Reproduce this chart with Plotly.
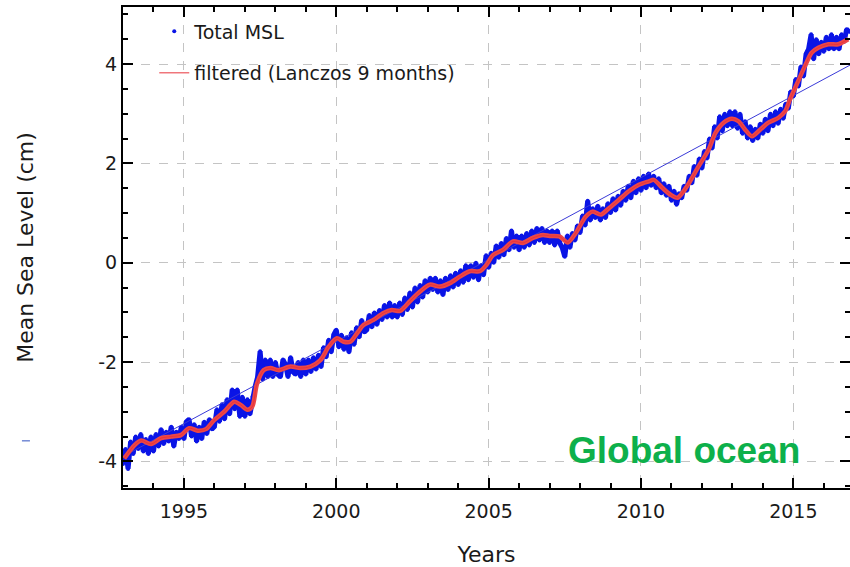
import numpy as np
import plotly.graph_objects as go

# Total mean sea level, monthly samples starting January 1993 (cm)
msl_start_year = 1993.0
msl_total = [
    # 1993
    -4.05, -3.75, -4.15, -3.60, -3.85, -3.50, -3.75, -3.45, -3.80, -3.55, -3.85, -3.50,
    # 1994
    -3.80, -3.45, -3.70, -3.35, -3.65, -3.40, -3.60, -3.30, -3.70, -3.40, -3.55, -3.30,
    # 1995
    -3.55, -3.20, -3.15, -3.50, -3.25, -3.60, -3.30, -3.55, -3.20, -3.45, -3.15, -3.35,
    # 1996
    -3.30, -2.95, -3.20, -2.85, -3.15, -2.75, -3.05, -2.55, -2.95, -2.55, -3.10, -2.70,
    # 1997
    -3.10, -2.75, -3.05, -2.70, -2.50, -2.30, -1.78, -2.35, -1.95, -2.30, -1.95, -2.30,
    # 1998
    -2.00, -2.25, -2.30, -1.95, -2.05, -2.30, -1.90, -2.20, -2.25, -2.00, -2.30, -1.95,
    # 1999
    -2.25, -1.95, -2.20, -1.90, -2.15, -1.85, -2.10, -1.70, -1.90, -1.55, -1.80, -1.45,
    # 2000
    -1.35, -1.70, -1.45, -1.75, -1.50, -1.80, -1.40, -1.65, -1.30, -1.50, -1.15, -1.40,
    # 2001
    -1.35, -1.05, -1.30, -1.00, -1.25, -0.95, -1.15, -0.85, -1.10, -0.80, -1.10, -0.85,
    # 2002
    -1.10, -0.80, -1.05, -0.70, -0.95, -0.60, -0.90, -0.50, -0.80, -0.45, -0.70, -0.35,
    # 2003
    -0.60, -0.30, -0.55, -0.30, -0.60, -0.35, -0.65, -0.30, -0.55, -0.25, -0.50, -0.20,
    # 2004
    -0.45, -0.15, -0.40, -0.05, -0.35, -0.05, -0.30, 0.00, -0.35, -0.05, -0.25, 0.15,
    # 2005
    -0.10, 0.20, 0.00, 0.35, 0.10, 0.40, 0.15, 0.50, 0.25, 0.65, 0.30, 0.55,
    # 2006
    0.25, 0.55, 0.30, 0.60, 0.35, 0.65, 0.40, 0.70, 0.45, 0.70, 0.40, 0.65,
    # 2007
    0.40, 0.65, 0.35, 0.65, 0.40, 0.30, 0.12, 0.55, 0.30, 0.60, 0.45, 0.75,
    # 2008
    0.60, 0.95, 0.75, 1.25, 0.85, 1.10, 0.90, 1.15, 0.85, 1.10, 0.90, 1.20,
    # 2009
    1.00, 1.30, 1.05, 1.35, 1.15, 1.45, 1.25, 1.55, 1.30, 1.65, 1.40, 1.70,
    # 2010
    1.45, 1.75, 1.50, 1.80, 1.55, 1.75, 1.50, 1.70, 1.40, 1.60, 1.35, 1.55,
    # 2011
    1.25, 1.45, 1.17, 1.40, 1.30, 1.55, 1.45, 1.75, 1.60, 1.95, 1.75, 2.10,
    # 2012
    1.90, 2.25, 2.10, 2.50, 2.30, 2.75, 2.50, 2.95, 2.65, 3.00, 2.75, 3.05,
    # 2013
    2.75, 3.05, 2.70, 3.00, 2.60, 2.85, 2.50, 2.75, 2.45, 2.70, 2.50, 2.80,
    # 2014
    2.60, 2.90, 2.65, 3.00, 2.75, 3.05, 2.80, 3.10, 2.90, 3.20, 3.10, 3.45,
    # 2015
    3.35, 3.70, 3.55, 3.95, 3.75, 4.20, 4.30, 4.60, 4.10, 4.50, 4.20, 4.45,
    # 2016
    4.25, 4.55, 4.30, 4.60, 4.30, 4.55, 4.30, 4.60, 4.45, 4.70, 4.65,
]

# Low-pass filtered series (Lanczos, 9 months)
filtered_years = [
    1993.04, 1993.38, 1993.60, 1993.92, 1994.25, 1994.58, 1994.90, 1995.17,
    1995.45, 1995.72, 1995.99, 1996.32, 1996.65, 1996.86, 1997.08, 1997.24,
    1997.40, 1997.62, 1997.84, 1998.10, 1998.50, 1998.82, 1999.15, 1999.48,
    1999.75, 2000.02, 2000.24, 2000.46, 2000.68, 2000.90, 2001.22, 2001.55,
    2001.82, 2002.09, 2002.42, 2002.75, 2003.07, 2003.40, 2003.73, 2004.05,
    2004.38, 2004.71, 2004.93, 2005.15, 2005.47, 2005.80, 2006.13, 2006.45,
    2006.78, 2007.00, 2007.32, 2007.60, 2007.86, 2008.19, 2008.41, 2008.68,
    2008.95, 2009.28, 2009.60, 2009.93, 2010.26, 2010.42, 2010.70, 2010.97,
    2011.20, 2011.50, 2011.89, 2012.22, 2012.44, 2012.71, 2012.98, 2013.20,
    2013.42, 2013.64, 2013.91, 2014.18, 2014.51, 2014.73, 2014.89, 2015.11,
    2015.38, 2015.60, 2015.82, 2016.15, 2016.47, 2016.80,
]
filtered_cm = [
    -3.94, -3.67, -3.58, -3.65, -3.53, -3.50, -3.47, -3.33,
    -3.38, -3.35, -3.17, -3.00, -2.80, -2.86, -2.96, -2.90,
    -2.43, -2.16, -2.12, -2.16, -2.09, -2.12, -2.09, -1.96,
    -1.69, -1.52, -1.59, -1.59, -1.42, -1.25, -1.15, -1.01,
    -0.95, -0.97, -0.77, -0.58, -0.44, -0.48, -0.41, -0.28,
    -0.17, -0.17, -0.04, 0.16, 0.26, 0.43, 0.40, 0.50,
    0.56, 0.54, 0.53, 0.41, 0.60, 0.93, 1.03, 0.97,
    1.10, 1.27, 1.44, 1.57, 1.64, 1.67, 1.51, 1.37,
    1.31, 1.53, 1.94, 2.28, 2.61, 2.82, 2.90, 2.85,
    2.68, 2.55, 2.68, 2.82, 2.92, 3.05, 3.29, 3.59,
    3.96, 4.23, 4.33, 4.40, 4.40, 4.50,
]

# Linear trend end points
trend_years = [1993.0, 2016.86]
trend_cm = [-3.90, 3.98]

# Axis ticks
x_ticks = [1995, 2000, 2005, 2010, 2015]
y_ticks = [-4, -2, 0, 2, 4]
y_tick_labels = ["-4", "-2", "0", "2", "4"]

msl_years = msl_start_year + np.arange(len(msl_total)) / 12.0

fig = go.Figure()

# Total MSL drawn as a dense band plus the point markers
fig.add_trace(go.Scatter(
    x=msl_years, y=msl_total, mode="lines",
    line=dict(color="#0a14e6", width=5),
    showlegend=False, hoverinfo="skip",
))
fig.add_trace(go.Scatter(
    x=msl_years, y=msl_total, mode="markers", name="Total MSL",
    marker=dict(color="#0a14e6", size=4),
    legendgroup="a",
))

# Linear trend
fig.add_trace(go.Scatter(
    x=trend_years, y=trend_cm, mode="lines",
    line=dict(color="#3a3ad8", width=1),
    showlegend=False,
))

# Filtered curve: thick line, plus a thin copy for the legend key
fig.add_trace(go.Scatter(
    x=filtered_years, y=filtered_cm, mode="lines",
    line=dict(color="#ec4747", width=4.5, shape="spline", smoothing=0.8),
    showlegend=False,
))
fig.add_trace(go.Scatter(
    x=filtered_years, y=filtered_cm, mode="lines",
    name="filtered (Lanczos 9 months)",
    line=dict(color="#e8333b", width=1, shape="spline", smoothing=0.8),
    legendgroup="b",
))

axis_common = dict(
    showline=True, linecolor="black", linewidth=2, mirror="allticks",
    ticks="inside", ticklen=10, tickwidth=2, tickcolor="black",
    showgrid=True, gridcolor="#c4c4c4", griddash="dash", gridwidth=1,
    zeroline=False,
    tickfont=dict(family="DejaVu Sans", size=19, color="#1a1a1a"),
)

fig.update_xaxes(
    range=[1993.0, 2016.86], tickmode="array",
    tickvals=x_ticks, ticktext=[str(v) for v in x_ticks],
    ticklabelstandoff=5,
    minor=dict(dtick=1, tick0=1993, ticks="inside", ticklen=5, tickwidth=2,
               tickcolor="black", showgrid=False),
    title=dict(text="Years", font=dict(family="DejaVu Sans", size=22, color="#1a1a1a"),
               standoff=26),
    **axis_common,
)
fig.update_yaxes(
    range=[-4.535, 5.15], tickmode="array",
    tickvals=y_ticks, ticktext=y_tick_labels,
    minor=dict(dtick=0.5, tick0=0, ticks="inside", ticklen=5, tickwidth=2,
               tickcolor="black", showgrid=False),
    title=dict(text="Mean Sea Level (cm)",
               font=dict(family="DejaVu Sans", size=22, color="#1a1a1a"),
               standoff=59),
    **axis_common,
)

fig.add_annotation(
    x=0.771, y=0.079, xref="paper", yref="paper",
    text="<b>Global ocean</b>", showarrow=False,
    font=dict(family="Liberation Sans", size=37, color="#0db04b"),
    xanchor="center", yanchor="middle",
)

fig.add_shape(
    type="line", xref="paper", yref="paper",
    x0=-0.139, x1=-0.128, y0=0.098, y1=0.098,
    line=dict(color="#3050c0", width=1),
)

fig.update_layout(
    width=850, height=567,
    margin=dict(l=123, r=0, t=7, b=79, autoexpand=False),
    plot_bgcolor="white", paper_bgcolor="white",
    legend=dict(
        x=0.043, y=0.989, xanchor="left", yanchor="top",
        bgcolor="rgba(0,0,0,0)", borderwidth=0,
        font=dict(family="DejaVu Sans", size=19, color="#1a1a1a"),
        tracegroupgap=14, traceorder="grouped",
    ),
)

fig.write_html("out.html")
